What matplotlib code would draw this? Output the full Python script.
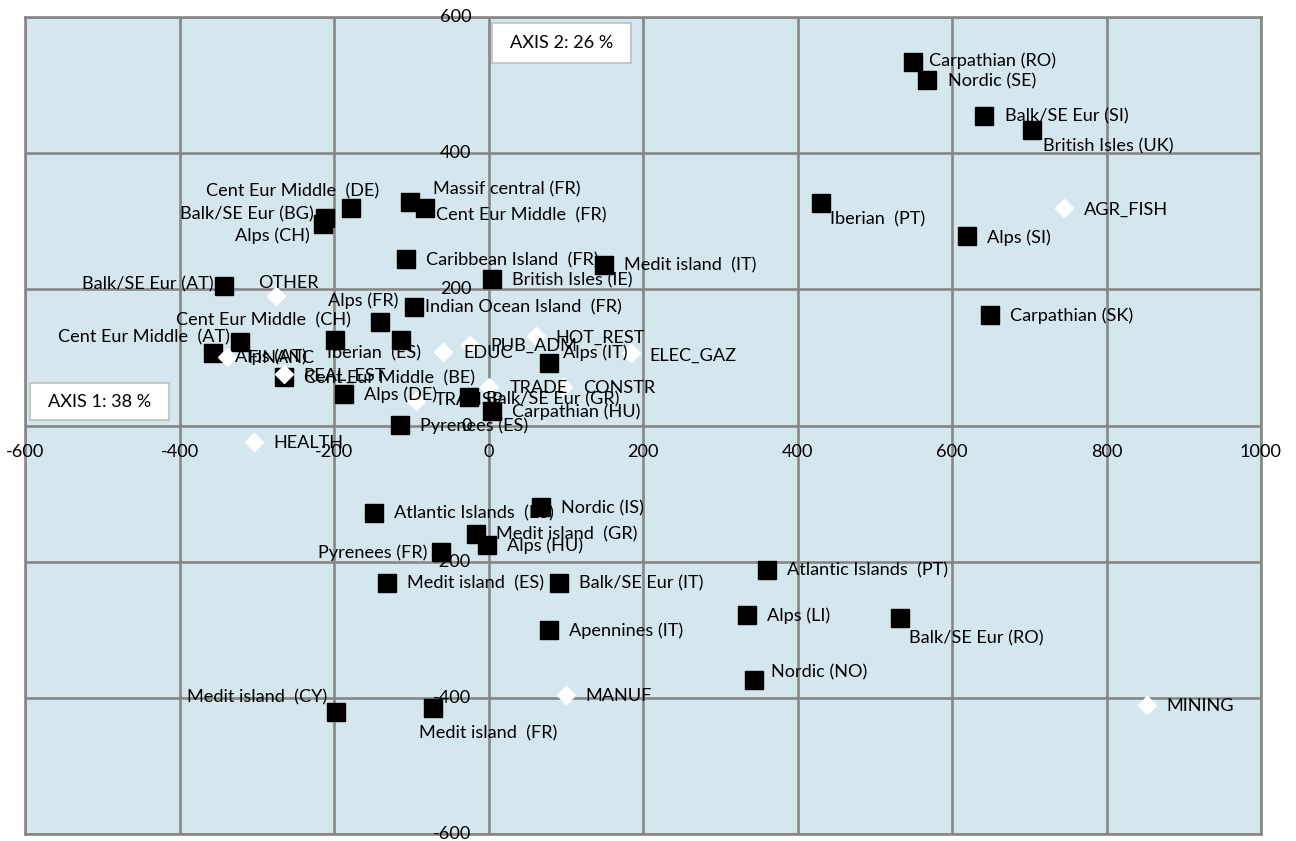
import matplotlib
matplotlib.use("Agg")
import matplotlib.pyplot as plt
from matplotlib.patches import Rectangle
from matplotlib.transforms import offset_copy

# ---- data: factor map, axis 1 (38 %) x axis 2 (26 %) ----
region_names = [
    "Carpathian (RO)", "Nordic (SE)", "Balk/SE Eur (SI)", "British Isles (UK)",
    "Iberian  (PT)", "Alps (SI)", "Carpathian (SK)", "Cent Eur Middle  (DE)",
    "Massif central (FR)", "Cent Eur Middle  (FR)", "Balk/SE Eur (BG)", "Alps (CH)",
    "Caribbean Island  (FR)", "British Isles (IE)", "Medit island  (IT)",
    "Balk/SE Eur (AT)", "Indian Ocean Island  (FR)", "Alps (FR)",
    "Cent Eur Middle  (CH)", "Iberian  (ES)", "Cent Eur Middle  (AT)", "Alps (AT)",
    "Alps (IT)", "Cent Eur Middle  (BE)", "Alps (DE)", "Balk/SE Eur (GR)",
    "Carpathian (HU)", "Pyrenees (ES)", "Atlantic Islands  (ES)", "Nordic (IS)",
    "Medit island  (GR)", "Alps (HU)", "Pyrenees (FR)", "Medit island  (ES)",
    "Balk/SE Eur (IT)", "Atlantic Islands  (PT)", "Apennines (IT)", "Alps (LI)",
    "Balk/SE Eur (RO)", "Nordic (NO)", "Medit island  (CY)", "Medit island  (FR)",
]
region_axis1 = [
    550, 568, 641, 704, 430, 619, 649, -178, -102, -82, -212, -214,
    -107, 5, 150, -342, -96, -140, -199, -113, -322, -357, 78, -265,
    -187, -25, 5, -115, -148, 68, -16, -2, -61, -131, 91, 360,
    78, 335, 533, 344, -197, -72,
]
region_axis2 = [
    534, 507, 455, 434, 327, 278, 162, 319, 328, 319, 305, 296,
    244, 215, 236, 205, 174, 152, 126, 126, 123, 106, 92, 71,
    46, 42, 21, 1, -128, -120, -159, -175, -186, -231, -231, -212,
    -300, -278, -283, -374, -421, -415,
]

sector_names = [
    "AGR_FISH", "OTHER", "HOT_REST", "PUB_ADM", "EDUC", "ELEC_GAZ", "TRADE",
    "CONSTR", "TRANSP", "FINANC", "REAL_EST", "HEALTH", "MANUF", "MINING",
]
sector_axis1 = [745, -275, 61, -24, -59, 185, 1, 96, -94, -338, -265, -304, 100, 852]
sector_axis2 = [319, 190, 131, 118, 108, 106, 57, 57, 36, 100, 75, -24, -396, -410]

x_ticks = [-600, -400, -200, 0, 200, 400, 600, 800, 1000]
y_ticks = [-600, -400, -200, 0, 200, 400, 600]
axis1_title = "AXIS 1: 38 %"
axis2_title = "AXIS 2: 26 %"

# ---- label placement (pixel offsets from the marker, horizontal anchor) ----
RIGHT = (20, 1, "left")
region_label_pos = {
    "Carpathian (RO)": (16, -1, "left"),
    "Nordic (SE)": (21, 1, "left"),
    "Balk/SE Eur (SI)": (21, 1, "left"),
    "British Isles (UK)": (11, 16, "left"),
    "Iberian  (PT)": (9, 17, "left"),
    "Cent Eur Middle  (DE)": (-58, -17, "center"),
    "Massif central (FR)": (23, -13, "left"),
    "Cent Eur Middle  (FR)": (11, 7, "left"),
    "Balk/SE Eur (BG)": (-11, -3, "right"),
    "Alps (CH)": (-13, 12, "right"),
    "Balk/SE Eur (AT)": (-11, -2, "right"),
    "Indian Ocean Island  (FR)": (11, 0, "left"),
    "Alps (FR)": (-17, -21, "center"),
    "Cent Eur Middle  (CH)": (-71, -19, "center"),
    "Iberian  (ES)": (-27, 14, "center"),
    "Cent Eur Middle  (AT)": (-10, -4, "right"),
    "Alps (AT)": (22, 3, "left"),
    "Alps (IT)": (14, -10, "left"),
    "Balk/SE Eur (GR)": (17, 2, "left"),
    "Pyrenees (FR)": (-14, 1, "right"),
    "Balk/SE Eur (RO)": (9, 20, "left"),
    "Nordic (NO)": (17, -8, "left"),
    "Medit island  (CY)": (-9, -15, "right"),
    "Medit island  (FR)": (-14, 25, "left"),
}
sector_label_pos = {
    "OTHER": (12, -13, "center"),
    "ELEC_GAZ": (18, 2, "left"),
    "TRANSP": (19, -1, "left"),
}

FONT = "Lato"
FS = 13.1
GRID = "#878787"
BG = "#D5E7EE"

plt.rcParams["font.family"] = [FONT, "DejaVu Sans"]

fig = plt.figure(figsize=(12.96, 8.41), dpi=100)
ax = fig.add_axes([0.0193, 0.0083, 0.9537, 0.9715])
ax.set_facecolor(BG)
ax.set_xlim(-600, 1000)
ax.set_ylim(-600, 600)
ax.set_xticks(x_ticks)
ax.set_yticks(y_ticks)
ax.tick_params(length=0, labelbottom=False, labelleft=False)
ax.grid(True, color=GRID, linewidth=1.9)
ax.set_axisbelow(True)
for sp in ax.spines.values():
    sp.set_color(GRID)
    sp.set_linewidth(1.9)

# tick labels sit on the zero lines
xt = offset_copy(ax.transData, fig=fig, x=0, y=-26, units="dots")
for v in x_ticks:
    ax.text(v, 0, str(v), transform=xt, ha="center", va="center",
            fontsize=FS, color="black", zorder=6)
yt = offset_copy(ax.transData, fig=fig, x=-17, y=0, units="dots")
for v in y_ticks:
    ax.text(0, v, str(v), transform=yt, ha="right", va="center",
            fontsize=FS, color="black", zorder=6)

# markers
ax.plot(region_axis1, region_axis2, linestyle="none", marker="s",
        markersize=13.5, markerfacecolor="black", markeredgecolor="black",
        zorder=3)
ax.plot(sector_axis1, sector_axis2, linestyle="none", marker="D",
        markersize=9.5, markerfacecolor="white", markeredgecolor="white",
        zorder=4)

# data labels
for name, x, y in zip(region_names, region_axis1, region_axis2):
    dx, dy, ha = region_label_pos.get(name, RIGHT)
    ax.annotate(name, (x, y), xytext=(dx, -dy), textcoords="offset pixels",
                ha=ha, va="center", fontsize=FS, color="black", zorder=5)
for name, x, y in zip(sector_names, sector_axis1, sector_axis2):
    dx, dy, ha = sector_label_pos.get(name, RIGHT)
    ax.annotate(name, (x, y), xytext=(dx, -dy), textcoords="offset pixels",
                ha=ha, va="center", fontsize=FS, color="black", zorder=5)

# axis inertia boxes
for (x0, y0, w, h), txt in [((0.004, 0.5067, 0.1125, 0.0453), axis1_title),
                            ((0.3778, 0.9437, 0.1125, 0.049), axis2_title)]:
    ax.add_patch(Rectangle((x0, y0), w, h, transform=ax.transAxes,
                           facecolor="white", edgecolor="#BFBFBF",
                           linewidth=1.2, zorder=6))
    ax.text(x0 + w / 2, y0 + h / 2, txt, transform=ax.transAxes,
            ha="center", va="center", fontsize=FS, zorder=7)

fig.savefig("out.png", dpi=100, facecolor="white")
